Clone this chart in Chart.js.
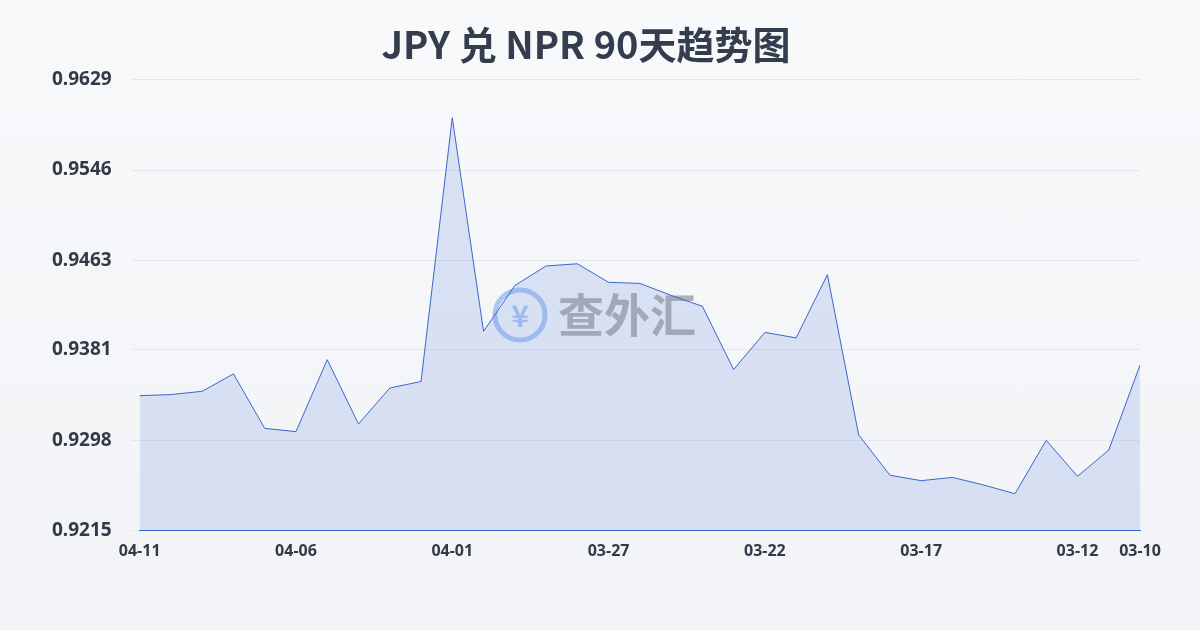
<!DOCTYPE html>
<html><head><meta charset="utf-8">
<script src="https://cdn.jsdelivr.net/npm/chart.js@4"></script>
<style>html,body{margin:0;padding:0;}body{width:1200px;height:630px;background:linear-gradient(#f8f9fb,#f1f3f6);}
#w{position:absolute;left:0;top:0;width:1200px;height:630px;}</style></head>
<body><div id="w"><canvas id="c" width="1200" height="630"></canvas></div>
<script>
const labels=["04-11","04-10","04-09","04-08","04-07","04-06","04-05","04-04","04-03","04-02","04-01","03-31","03-30","03-29","03-28","03-27","03-26","03-25","03-24","03-23","03-22","03-21","03-20","03-19","03-18","03-17","03-16","03-15","03-14","03-13","03-12","03-11","03-10"];
const values=[0.9339,0.9340,0.9343,0.9359,0.9309,0.9306,0.9372,0.9313,0.9346,0.9352,0.9594,0.9398,0.9440,0.9458,0.9460,0.9443,0.9442,0.9431,0.9421,0.9363,0.9397,0.9392,0.9450,0.9303,0.9266,0.9261,0.9264,0.9257,0.9249,0.9298,0.9265,0.9289,0.9367];
const yTicks=[0.9215,0.9298,0.9381,0.9463,0.9546,0.9629];
const shownX=[0,5,10,15,20,25,30,32];
const wm={id:'wm',beforeDatasetsDraw(ch){const c=ch.ctx;c.save();c.globalAlpha=0.55;
c.strokeStyle='#6fa0e8';c.lineWidth=5;c.beginPath();c.arc(520,315,25,0,Math.PI*2);c.stroke();
c.fillStyle='#6fa0e8';c.font='bold 30px "Noto Sans CJK SC"';c.textAlign='center';c.textBaseline='middle';c.fillText('¥',520,316);
c.fillStyle='#777';c.font='bold 46px "Noto Sans CJK SC"';c.textAlign='left';c.fillText('查外汇',558,315);c.restore();}};
new Chart(document.getElementById('c'),{type:'line',plugins:[wm],
data:{labels,datasets:[{data:values,borderColor:'#3a66cc',borderWidth:1,backgroundColor:'rgba(90,130,220,0.18)',fill:true,pointRadius:0,tension:0}]},
options:{responsive:false,animation:false,layout:{padding:{left:32,right:60,top:14,bottom:66}},
plugins:{legend:{display:false},tooltip:{enabled:false},title:{display:true,text:'JPY 兑 NPR 90天趋势图',color:'#333d4d',font:{size:38,weight:'bold',family:'"Noto Sans CJK SC"'},padding:{top:8,bottom:12}}},
scales:{x:{grid:{display:false},border:{color:'#3a66cc'},ticks:{autoSkip:false,maxRotation:0,color:'#333a47',font:{size:16,weight:'bold',family:'"Noto Sans"'},callback:(v,i)=>shownX.includes(i)?labels[i]:''}},
y:{min:0.9215,max:0.9629,afterBuildTicks:a=>{a.ticks=yTicks.map(v=>({value:v}));},border:{display:false},grid:{color:'#e3e6ea'},ticks:{color:'#333a47',padding:20,font:{size:19,weight:'bold',family:'"Noto Sans"'},callback:v=>v.toFixed(4)}}}}});
</script></body></html>
